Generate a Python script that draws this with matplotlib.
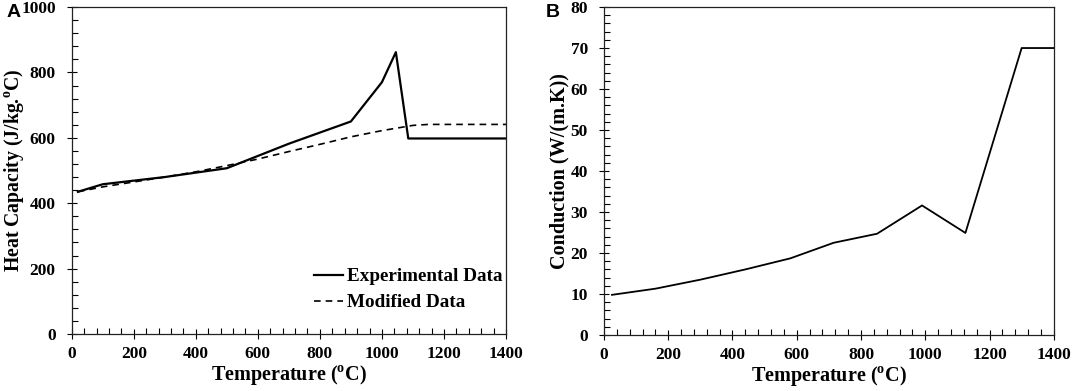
import matplotlib
matplotlib.use('Agg')
import matplotlib.pyplot as plt
from matplotlib.ticker import MultipleLocator

plt.rcParams['font.family'] = 'Liberation Serif'
plt.rcParams['font.weight'] = 'bold'
plt.rcParams['mathtext.fontset'] = 'custom'
plt.rcParams['mathtext.rm'] = 'Liberation Serif:bold'
plt.rcParams['mathtext.bf'] = 'Liberation Serif:bold'

# datos panel A (capacidad calorifica)
temp_exp = [20, 100, 300, 500, 700, 900, 1000, 1045, 1085, 1400]
cp_exp = [435, 458, 480, 507, 582, 650, 770, 862, 598, 598]
temp_mod = [20, 100, 200, 300, 400, 500, 600, 700, 800, 900, 1000, 1100, 1150, 1400]
cp_mod = [435, 450, 465, 480, 496, 515, 535, 558, 580, 603, 622, 638, 641, 641]

# datos panel B (conduccion)
temp_k = [25, 160, 300, 440, 580, 715, 850, 990, 1125, 1300, 1400]
k_vals = [9.8, 11.3, 13.5, 16.0, 18.7, 22.5, 24.7, 31.6, 24.9, 70, 70]

xlabel = r'Temperature ($^{\mathrm{o}}$C)'

fig = plt.figure(figsize=(10.72, 3.91), dpi=100)
axA = fig.add_axes([0.0669, 0.1458, 0.4051, 0.8362])
axB = fig.add_axes([0.5634, 0.1432, 0.4196, 0.8388])


def estilo(ax, ymax, ymaj, ymin):
    ax.set_xlim(0, 1400)
    ax.set_ylim(0, ymax)
    ax.xaxis.set_major_locator(MultipleLocator(200))
    ax.xaxis.set_minor_locator(MultipleLocator(40))
    ax.yaxis.set_major_locator(MultipleLocator(ymaj))
    ax.yaxis.set_minor_locator(MultipleLocator(ymin))
    ax.tick_params(which='major', direction='inout', length=7, width=0.8, labelsize=12.5)
    ax.tick_params(which='minor', direction='in', length=4, width=0.8)
    ax.tick_params(axis='x', pad=5)
    ax.tick_params(axis='y', pad=8)
    for s in ax.spines.values():
        s.set_linewidth(0.9)
        s.set_color('#222222')
    for lab in ax.get_xticklabels() + ax.get_yticklabels():
        lab.set_fontweight('bold')
    ax.set_xlabel(xlabel, fontsize=14.5, fontweight='bold', labelpad=1)


# panel A
axA.plot(temp_exp, cp_exp, color='black', lw=1.6, label='Experimental Data')
axA.plot(temp_mod, cp_mod, color='black', lw=1.2, ls=(0, (4, 3)), label='Modified Data')
estilo(axA, 1000, 200, 40)
axA.set_ylabel(r'Heat Capacity (J/kg.$^{\mathrm{o}}$C)', fontsize=14.2, fontweight='bold', labelpad=-3.5)
leg = axA.legend(loc='lower right', frameon=False, fontsize=13.8, handlelength=1.55,
                 handletextpad=0.2, labelspacing=0.45, borderaxespad=0.0,
                 bbox_to_anchor=(1.01, 0.046))
for t in leg.get_texts():
    t.set_fontweight('bold')

# panel B
axB.plot(temp_k, k_vals, color='black', lw=1.3)
estilo(axB, 80, 10, 2)
axB.set_ylabel('Conduction (W/(m.K))', fontsize=14.5, fontweight='bold', labelpad=1)

fig.text(0.006, 0.968, 'A', fontsize=14, fontweight='bold', family='Liberation Sans', va='center')
fig.text(0.509, 0.968, 'B', fontsize=14, fontweight='bold', family='Liberation Sans', va='center')

fig.savefig('out.png', dpi=100)
